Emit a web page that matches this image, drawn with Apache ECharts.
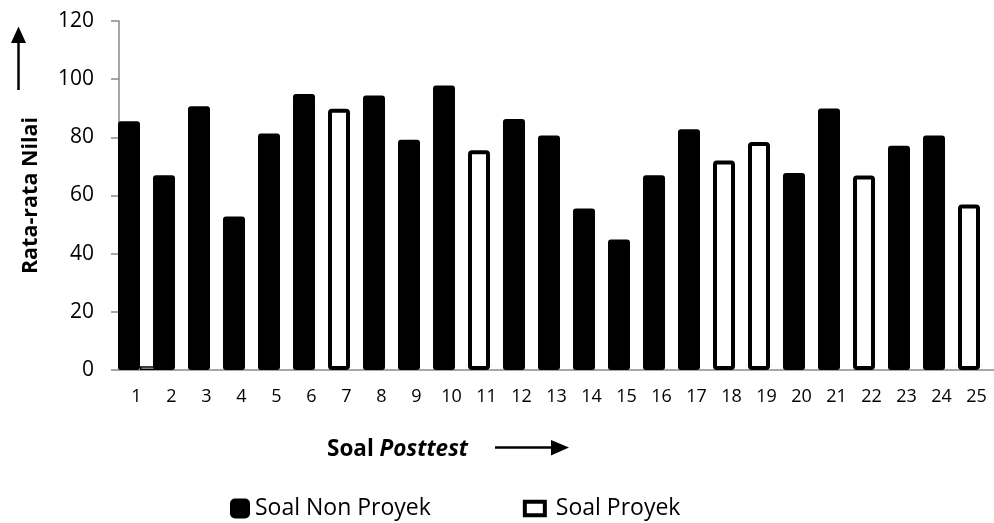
<!DOCTYPE html>
<html>
<head>
<meta charset="utf-8">
<script src="https://cdn.jsdelivr.net/npm/echarts@6/dist/echarts.min.js"></script>
<style>
html,body{margin:0;padding:0;background:#fff;}
#chart{width:994px;height:523px;}
</style>
</head>
<body>
<div id="chart"></div>
<script>
// Categories (soal posttest numbers)
var categories = ['1','2','3','4','5','6','7','8','9','10','11','12','13','14','15','16','17','18','19','20','21','22','23','24','25'];
// Rata-rata nilai, soal non proyek
var nonProyek = [85.5, 67.0, 90.7, 52.8, 81.3, 94.9, '-', 94.4, 79.2, 97.8, '-', 86.3, 80.6, 55.5, 44.9, 67.0, 82.8, '-', '-', 67.7, 89.9, '-', 77.1, 80.6, '-'];
// Rata-rata nilai, soal proyek
var proyek = ['-', '-', '-', '-', '-', '-', 89.8, '-', '-', '-', 75.6, '-', '-', '-', '-', '-', '-', 72.0, 78.4, '-', '-', 66.9, '-', '-', 56.9];
// Second slot of the "Soal Proyek" series (only soal 1 has a tiny value)
var proyekSlot2 = [1.3, '-', '-', '-', '-', '-', '-', '-', '-', '-', '-', '-', '-', '-', '-', '-', '-', '-', '-', '-', '-', '-', '-', '-', '-'];
var yTicks = {min: 0, max: 120, interval: 20};

var FONT = "'Open Sans', 'Noto Sans', sans-serif";
var chart = echarts.init(document.getElementById('chart'), null, {renderer: 'canvas'});
var option = {
  animation: false,
  backgroundColor: '#ffffff',
  grid: {left: 119, top: 21, width: 876, height: 349, containLabel: false},
  legend: {
    left: 230, top: 497, padding: 0,
    itemWidth: 20, itemHeight: 20, itemGap: 92,
    textStyle: {fontFamily: FONT, fontSize: 23, color: '#000'},
    formatter: function (name) { return name === 'Soal Proyek' ? ' ' + name : name; },
    data: [
      {name: 'Soal Non Proyek', icon: 'roundRect', itemStyle: {color: '#000', borderWidth: 0}},
      {name: 'Soal Proyek', icon: 'path://M0,0h24v16h-24z', itemStyle: {color: '#fff', borderColor: '#000', borderWidth: 4}}
    ]
  },
  xAxis: {
    type: 'category',
    data: categories,
    axisLine: {lineStyle: {color: '#8a8a8a', width: 1.5}},
    axisTick: {show: false},
    axisLabel: {interval: 0, fontFamily: FONT, fontSize: 18, color: '#000', margin: 18},
    splitLine: {show: false}
  },
  yAxis: {
    type: 'value',
    min: yTicks.min, max: yTicks.max, interval: yTicks.interval,
    name: 'Rata-rata Nilai',
    nameLocation: 'middle',
    nameGap: 77,
    nameTextStyle: {fontFamily: FONT, fontSize: 21.5, fontWeight: 'bold', color: '#000'},
    axisLine: {show: true, lineStyle: {color: '#8a8a8a', width: 1.5}},
    axisTick: {show: true, length: 8, lineStyle: {color: '#8a8a8a', width: 1.5}},
    axisLabel: {fontFamily: FONT, fontSize: 21, color: '#000', margin: 25},
    splitLine: {show: false}
  },
  series: [
    {
      name: 'Soal Non Proyek', type: 'bar', stack: 'soal', barWidth: 22,
      data: nonProyek,
      itemStyle: {color: '#000', borderColor: '#000', borderWidth: 2, borderRadius: 2}
    },
    {
      name: 'Soal Proyek', type: 'bar', stack: 'soal', barWidth: 22,
      data: proyek,
      itemStyle: {color: '#fff', borderColor: '#000', borderWidth: 4, borderRadius: 2}
    },
    {
      name: 'Soal Proyek', type: 'bar', barWidth: 15, barGap: '0%',
      data: proyekSlot2,
      itemStyle: {color: '#fff', borderColor: '#000', borderWidth: 1.5}
    }
  ],
  graphic: [
    // up arrow beside the y-axis title
    {type: 'line', shape: {x1: 18.5, y1: 90, x2: 18.5, y2: 40}, style: {stroke: '#000', lineWidth: 2.5}},
    {type: 'polygon', shape: {points: [[18.5, 26.5], [11, 43], [26, 43]]}, style: {fill: '#000'}},
    // x-axis title
    {
      type: 'text', left: 327, top: 438,
      style: {
        text: '{b|Soal }{bi|Posttest}',
        rich: {
          b: {fontFamily: FONT, fontSize: 22.5, fontWeight: 'bold', fill: '#000'},
          bi: {fontFamily: FONT, fontSize: 22.5, fontWeight: 'bold', fontStyle: 'italic', fill: '#000'}
        }
      }
    },
    // right arrow after the x-axis title
    {type: 'line', shape: {x1: 495, y1: 447.5, x2: 554, y2: 447.5}, style: {stroke: '#000', lineWidth: 2.5}},
    {type: 'polygon', shape: {points: [[569, 447.5], [551, 440], [551, 455.5]]}, style: {fill: '#000'}}
  ]
};
chart.setOption(option);
</script>
</body>
</html>
